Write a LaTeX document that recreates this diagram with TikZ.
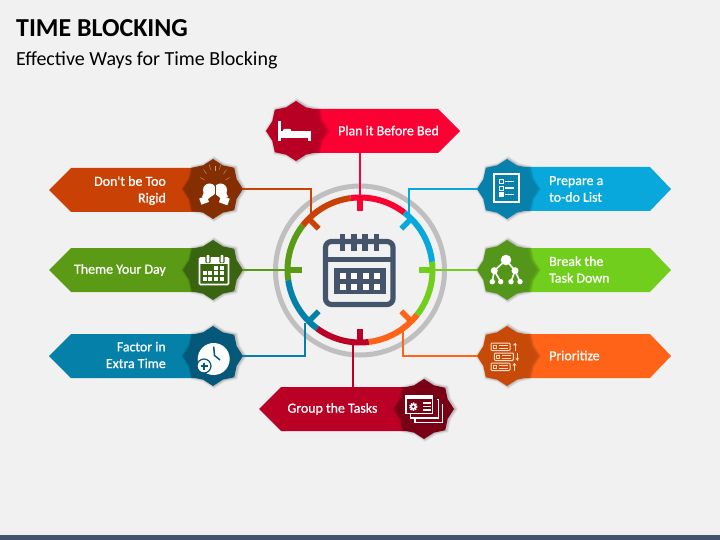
\documentclass[tikz,border=0pt]{standalone}
\usepackage{fontspec}
\setmainfont{Carlito}
\newfontfamily\labelfont[FakeBold=0.8]{Carlito}
\usetikzlibrary{shapes.geometric}
\definecolor{bgc}{HTML}{F1F1F1}
\definecolor{slate}{HTML}{44546A}
\definecolor{ringc}{HTML}{BFBFBF}
\definecolor{redA}{HTML}{FB0033}\definecolor{redB}{HTML}{B80024}
\definecolor{brnA}{HTML}{C94104}\definecolor{brnB}{HTML}{842E02}
\definecolor{grnA}{HTML}{5A9A14}\definecolor{grnB}{HTML}{3A6510}
\definecolor{tealA}{HTML}{0580A8}\definecolor{tealB}{HTML}{05587A}
\definecolor{bluA}{HTML}{08A8DC}\definecolor{bluB}{HTML}{0880AC}
\definecolor{limA}{HTML}{72CE1C}\definecolor{limB}{HTML}{53961A}
\definecolor{ornA}{HTML}{FF6318}\definecolor{ornB}{HTML}{C84A08}
\definecolor{crmA}{HTML}{BA0025}\definecolor{crmB}{HTML}{7A0016}
\definecolor{peach}{HTML}{FFDCC8}
\tikzset{
  blob/.style={star,star points=8,star point ratio=1.17,minimum size=60pt,inner sep=0pt,outer sep=0pt},
  bannertext/.style={text=white,font=\fontsize{13.9}{16.7}\labelfont,inner sep=0pt},
  link/.style={line width=2pt},
  seg/.style={line width=6pt},
  tick/.style={line width=5.5pt},
  wl/.style={white,line width=1.6pt}
}
\newcommand{\blobat}[4]{% name,x,y,colour
  \foreach \s/\o in {66/.05,64/.07,62/.09}{\node[blob,fill=black,opacity=\o,minimum size=\s pt] at (#2+1,#3) {};}
  \node[blob,fill=#4] (#1) at (#2,#3) {};}
\newcommand{\ringpart}[4]{% tick compass, start, end, colour
  \draw[seg,#4] (#2-90:72.5) arc[start angle=#2-90,end angle=#3-90,radius=72.5];
  \draw[tick,#4] (#1-90:75) -- (#1-90:58.5);}
\begin{document}
\begin{tikzpicture}[x=1pt,y=-1pt]
\useasboundingbox (0,0) rectangle (720,540);
\fill[bgc] (0,0) rectangle (720,540);
\fill[slate] (0,535) rectangle (720,540);
\node[anchor=west,inner sep=0pt,font=\fontsize{25.9}{26}\selectfont\bfseries] (title) at (16,28.5) {TIME BLOCKING};
\node[anchor=west,inner sep=0pt,font=\fontsize{20}{20}\selectfont] (subtitle) at (16,60) {Effective Ways for Time Blocking};

% banners
\fill[redA] (296,109) -- (438,109) -- (460,131) -- (438,153) -- (296,153) -- cycle;
\fill[brnA] (213,168) -- (71,168) -- (49,190) -- (71,212) -- (213,212) -- cycle;
\fill[grnA] (213,248) -- (71,248) -- (49,270) -- (71,292) -- (213,292) -- cycle;
\fill[tealA] (213,334) -- (71,334) -- (49,356) -- (71,378) -- (213,378) -- cycle;
\fill[bluA] (507,167) -- (650,167) -- (671,189) -- (650,211) -- (507,211) -- cycle;
\fill[limA] (507,248) -- (650,248) -- (671,270) -- (650,292) -- (507,292) -- cycle;
\fill[ornA] (507,334) -- (650,334) -- (671,356) -- (650,378) -- (507,378) -- cycle;
\fill[crmA] (424,387) -- (281,387) -- (259,409) -- (281,431) -- (424,431) -- cycle;

% blobs
\blobat{plan}{296}{131}{redB}
\blobat{rigid}{213}{189}{brnB}
\blobat{theme}{213}{270}{grnB}
\blobat{factor}{213}{356}{tealB}
\blobat{todo}{507}{189}{bluB}
\blobat{brk}{507}{270}{limB}
\blobat{prio}{507}{356}{ornB}
\blobat{group}{424}{409}{crmB}

% labels
\node[bannertext,anchor=center] (tplan) at (388.5,130.5) {Plan it Before Bed};
\node[bannertext,anchor=east,align=right] (trigid) at (166,190.5) {Don't be Too\\Rigid};
\node[bannertext,anchor=east] (ttheme) at (166,270) {Theme Your Day};
\node[bannertext,anchor=east,align=right] (tfactor) at (166,355) {Factor in\\Extra Time};
\node[bannertext,anchor=west,align=left] (ttodo) at (549,189) {Prepare a\\to-do List};
\node[bannertext,anchor=west,align=left] (tbrk) at (549,269.5) {Break the\\Task Down};
\node[bannertext,anchor=west] (tprio) at (549,355.5) {Prioritize};
\node[bannertext,anchor=center] (tgroup) at (332.5,409) {Group the Tasks};

% gray ring
\node[circle,draw=ringc,line width=5pt,minimum size=169pt,inner sep=0pt,outer sep=0pt] (ring) at (360,270.5) {};

% connector ends
\coordinate (eplan) at (360,200);
\coordinate (erigid) at (310.5,218);
\coordinate (etheme) at (287,270);
\coordinate (efactor) at (305,323);
\coordinate (etodo) at (409,214);
\coordinate (ebrk) at (433,270);
\coordinate (eprio) at (403,327);
\coordinate (egroup) at (353,341);
\coordinate (sgroup) at (353,387);
\coordinate (splan) at (360,153);

\draw[link,redA] (splan) -- (eplan);
\draw[link,brnA] (rigid.east) -| (erigid);
\draw[link,grnA] (theme.east) -- (etheme);
\draw[link,tealA] (factor.east) -| (efactor);
\draw[link,bluA] (todo.west) -| (etodo);
\draw[link,limA] (brk.west) -- (ebrk);
\draw[link,ornA] (prio.west) -| (eprio);
\draw[link,crmA] (sgroup) -- (egroup);

% segmented ring
\begin{scope}[shift={(360,270)}]
\ringpart{270}{262}{308}{grnA}
\ringpart{225}{216}{262}{tealA}
\ringpart{180}{173}{216}{crmA}
\ringpart{135}{128}{173}{ornA}
\ringpart{90}{83.5}{128}{limA}
\ringpart{45}{37.6}{83.5}{bluA}
\ringpart{315}{308}{352.6}{brnA}
\ringpart{0}{-7.4}{37.6}{redA}
\end{scope}

% centre calendar
\draw[slate,line width=5.2pt,rounded corners=6pt] (325.5,241.5) rectangle (393,304.5);
\fill[slate] (325,257) rectangle (393,262);
\foreach \x in {342.5,354,365,376.5}{\fill[slate] (\x-2.8,234) rectangle (\x+2.8,251);}
\fill[slate] (334,268) rectangle (386,294);
\foreach \x in {343,354.3,365.7,376.7}{\foreach \y in {276,287}{\fill[white] (\x-3,\y-3) rectangle (\x+3,\y+3);}}

% bed icon
\fill[white] (278,121) rectangle (281,141);
\fill[white] (281,131) rectangle (311,138);
\fill[white] (308,131) rectangle (311,141);
\fill[white,rounded corners=1pt] (283,129) rectangle (291,132);

% gloves icon
\foreach \a/\r in {-150/12,-125/15,-105/17,-90/15,-75/17,-55/15,-30/12}{
  \draw[white,opacity=.55,line width=.4pt] (215,186)++(\a:\r) -- ++(\a:5);}
\fill[white] (209.5,190) circle (6.5);
\fill[white] (220.5,190) circle (6.5);
\draw[brnB,line width=.8pt] (215,184) -- (215,196);
\fill[white,rotate around={20:(204,200)}] (200,197) rectangle (208,203.5);
\fill[white,rotate around={-20:(224.5,200)}] (220,197) rectangle (229,204);
\fill[white] (204,192) -- (213,195) -- (208,199) -- (202,197) -- cycle;
\fill[white] (217,195) -- (226,192) -- (228,197) -- (221,199) -- cycle;

% calendar icon
\draw[white,line width=1.6pt,rounded corners=1pt] (199.5,258) rectangle (228.5,284.5);
\fill[white] (199.5,258) rectangle (228.5,264);
\foreach \x in {208,222}{\fill[grnB,rounded corners=1pt] (\x-2.6,254.5) rectangle (\x+2.6,263);
  \fill[white,rounded corners=.8pt] (\x-1.4,255) rectangle (\x+1.4,262.5);}
\foreach \x/\y in {222/268,216/268,222/273,216/273,210/273,205/273,222/279,216/279,210/279,205/279}{\fill[white] (\x-2,\y-2) rectangle (\x+2,\y+2);}

% clock icon
\fill[white] (213.7,359) circle (16);
\draw[tealB,line width=1.5pt] (213.7,346.7) -- (214.5,355.5) -- (220,360);
\fill[white,draw=tealB,line width=1.2pt] (204,366) circle (7);
\draw[tealB,line width=1.4pt] (200.5,366) -- (207.5,366) (204,362.5) -- (204,369.5);

% to-do icon
\draw[white,line width=2pt] (494,174.5) rectangle (518.5,202.5);
\foreach \y in {181.7,188,194.5}{
  \draw[white,line width=.6pt] (499,\y-2) rectangle (503,\y+2);
  \draw[white,line width=1.5pt] (505,\y) -- (513.5,\y);}
\fill[white] (499,192.5) rectangle (503,196.5);

% tree icon
\draw[wl] (494.3,270.7) -- (506,260) -- (515,270.7);
\draw[wl] (492.3,281.7) -- (494.3,270.7) -- (500.7,281.7);
\draw[wl] (511,281.7) -- (515,270.7) -- (520,281.7);
\fill[white] (506,260) circle (5.3) (494.3,270.7) circle (3.5) (515,270.7) circle (3.5)
  (492.3,281.7) circle (2.7) (500.7,281.7) circle (2.7) (511,281.7) circle (2.7) (520,281.7) circle (2.7);

% priorities icon
\foreach \x/\y in {491/343,494.3/353,491/363}{
  \draw[peach,line width=1pt,rounded corners=1pt] (\x,\y) rectangle (\x+19,\y+7.5);
  \draw[peach,line width=.7pt] (\x+2.5,\y+2.3) rectangle (\x+5.5,\y+5.2);
  \draw[peach,line width=.9pt] (\x+8,\y+2.3) -- (\x+17,\y+2.3) (\x+8,\y+5) -- (\x+17,\y+5);}
\foreach \x/\a/\b in {515/350.5/343,517.3/353/360.5,514.3/370.5/363}{
  \draw[peach,line width=1pt] (\x,\a) -- (\x,\b);
  \fill[peach] (\x-2,{\b+(\a-\b)*.3}) -- (\x,\b) -- (\x+2,{\b+(\a-\b)*.3}) -- cycle;}

% cards icon
\draw[white,line width=1.2pt] (406,395.5) rectangle (432.7,413.3);
\fill[white] (406,395) rectangle (432.7,399);
\draw[white,line width=1.2pt] (437,399.5) -- (438.3,399.5) -- (438.3,418) -- (410.5,418) -- (410.5,414);
\draw[white,line width=1.2pt] (441.5,405) -- (442.7,405) -- (442.7,422.7) -- (415,422.7) -- (415,418.5);
\draw[white,line width=1.2pt] (423,403) -- (431,403) (423,406.7) -- (431,406.7) (423,410) -- (431,410);
\draw[white,line width=1.7pt,dash pattern=on 1.3pt off .9pt] (413.3,406.7) circle (3.4);
\fill[white] (413.3,406.7) circle (3.2);
\fill[crmB] (413.3,406.7) circle (1.4);
\end{tikzpicture}
\end{document}
